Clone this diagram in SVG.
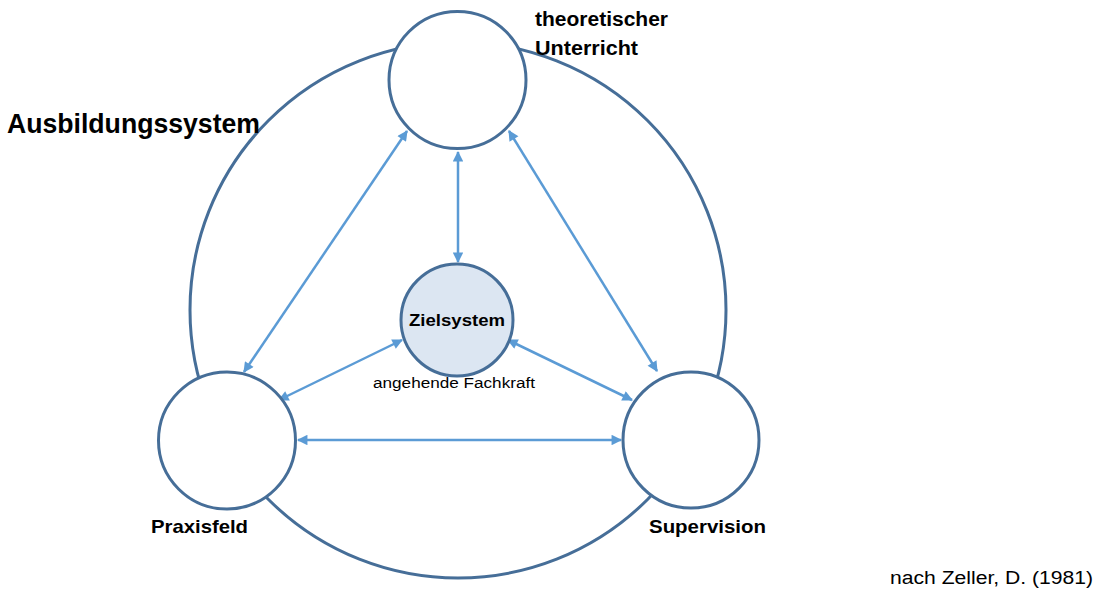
<svg xmlns="http://www.w3.org/2000/svg" width="1096" height="596" viewBox="0 0 1096 596">
<style>
.ring{fill:#fff;stroke:#466e98;stroke-width:3}
.big{fill:none;stroke:#466e98;stroke-width:3}
.arr{stroke:#5b9bd5;stroke-width:2.5;fill:none;marker-start:url(#ah);marker-end:url(#ah)}
.b{font-family:"Liberation Sans",Arial,sans-serif;font-weight:bold;fill:#000}
.r{font-family:"Liberation Sans",Arial,sans-serif;fill:#000}
</style>
<defs>
<marker id="ah" viewBox="0 0 10 10" refX="9" refY="5" markerWidth="4.8" markerHeight="4.2" markerUnits="strokeWidth" orient="auto-start-reverse">
<path d="M0,0 L10,5 L0,10 z" fill="#5b9bd5"/>
</marker>
</defs>
<g id="ausbildungssystem">
<circle class="big" cx="458" cy="310" r="268"/>
<text class="b" x="7" y="133" font-size="28" textLength="253" lengthAdjust="spacingAndGlyphs">Ausbildungssystem</text>
</g>
<g id="connectors">
<line class="arr" x1="458" y1="152" x2="458" y2="262"/>
<line class="arr" x1="407" y1="131" x2="244" y2="372"/>
<line class="arr" x1="509" y1="131" x2="657" y2="371"/>
<line class="arr" x1="402" y1="340" x2="279" y2="400"/>
<line class="arr" x1="508" y1="340" x2="632" y2="400"/>
<line class="arr" x1="298" y1="440" x2="621" y2="440"/>
</g>
<g id="theoretischer-unterricht">
<circle class="ring" cx="457.5" cy="80" r="68.5"/>
<text class="b" x="535" y="26" font-size="20" textLength="133" lengthAdjust="spacingAndGlyphs">theoretischer</text>
<text class="b" x="535" y="55" font-size="20" textLength="103" lengthAdjust="spacingAndGlyphs">Unterricht</text>
</g>
<g id="praxisfeld">
<circle class="ring" cx="227" cy="440.5" r="68.5"/>
<text class="b" x="151" y="533" font-size="19" textLength="97" lengthAdjust="spacingAndGlyphs">Praxisfeld</text>
</g>
<g id="supervision">
<circle class="ring" cx="691" cy="440" r="68"/>
<text class="b" x="649" y="533" font-size="19" textLength="117" lengthAdjust="spacingAndGlyphs">Supervision</text>
</g>
<g id="zielsystem">
<circle cx="457" cy="320" r="56" fill="#dce6f2" stroke="#466e98" stroke-width="3"/>
<text class="b" x="457" y="326" font-size="17" text-anchor="middle" textLength="96" lengthAdjust="spacingAndGlyphs">Zielsystem</text>
<text class="r" x="454" y="388" font-size="14" text-anchor="middle" textLength="162" lengthAdjust="spacingAndGlyphs">angehende Fachkraft</text>
</g>
<g id="quelle">
<text class="r" x="890" y="584" font-size="18" textLength="203" lengthAdjust="spacingAndGlyphs">nach Zeller, D. (1981)</text>
</g>
</svg>
